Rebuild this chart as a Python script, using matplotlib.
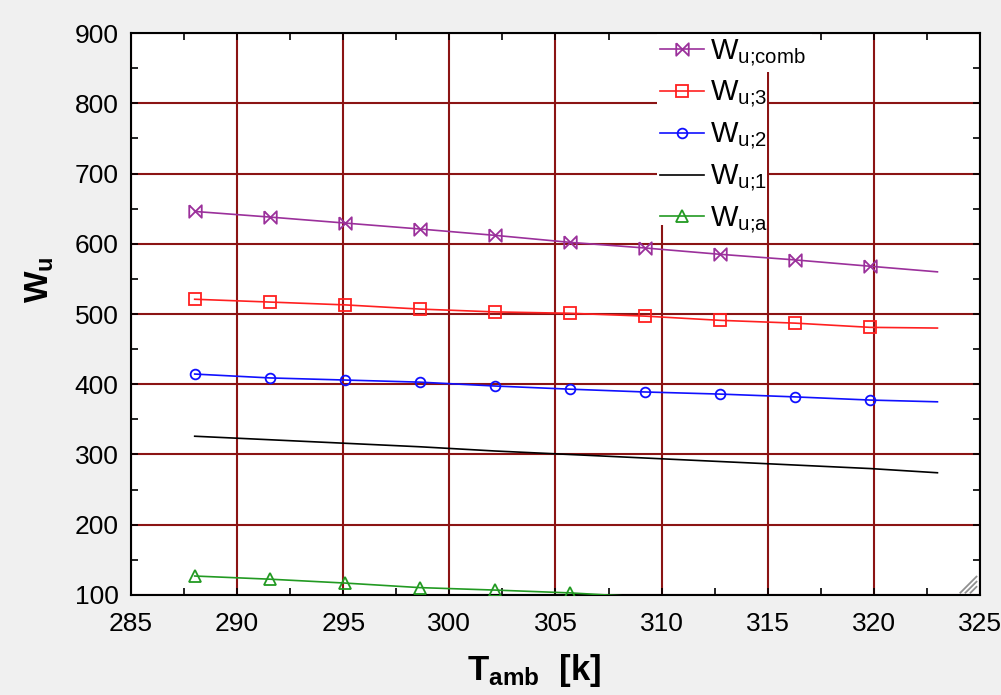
import numpy as np
import matplotlib
matplotlib.use('Agg')
import matplotlib.pyplot as plt
from matplotlib.path import Path
from matplotlib.patches import Rectangle

plt.rcParams['font.family'] = ['Liberation Sans', 'DejaVu Sans']
plt.rcParams['mathtext.fontset'] = 'custom'
plt.rcParams['mathtext.rm'] = 'Liberation Sans'
plt.rcParams['mathtext.it'] = 'Liberation Sans'
plt.rcParams['mathtext.bf'] = 'Liberation Sans:bold'

# ambient temperature (marker positions + end of line)
t_amb = [288, 291.54, 295.07, 298.61, 302.14, 305.68, 309.21, 312.75, 316.29, 319.82, 323]

w_comb = [646, 638, 629.5, 621, 612, 602, 594, 585, 577, 568, 560]
w_3 = [521, 517, 513, 507, 503, 501, 497, 491, 487, 481, 480]
w_2 = [414.5, 409, 406, 403, 397.5, 393, 389, 386, 382, 377.5, 375]
w_1 = [326, 321, 316, 311, 305, 300, 295, 290, 285, 280, 274]
w_a = [127, 122.5, 117, 110.5, 107, 103, 97, 92, 87, 82, 78]

# bowtie marker like the original program
bowtie = Path([(-1, 1), (-1, -1), (1, 1), (1, -1), (-1, 1)],
              [Path.MOVETO, Path.LINETO, Path.LINETO, Path.LINETO, Path.LINETO])

fig = plt.figure(figsize=(10.01, 6.95), dpi=100, facecolor='#f0f0f0')
ax = fig.add_axes([0.1309, 0.1439, 0.848, 0.8086])
ax.set_facecolor('white')

mk = list(range(10))
ax.plot(t_amb, w_comb, color='#9b309b', lw=1.2, marker=bowtie, ms=9, mfc='none', mew=1.3,
        markevery=mk, label=r'$\mathregular{W}_{\text{u;comb}}$', zorder=3)
ax.plot(t_amb, w_3, color='#ff2020', lw=1.2, marker='s', ms=9, mfc='none', mew=1.3,
        markevery=mk, label=r'$\mathregular{W}_{\text{u;3}}$', zorder=3)
ax.plot(t_amb, w_2, color='#1010ff', lw=1.2, marker='o', ms=7, mfc='none', mew=1.3,
        markevery=mk, label=r'$\mathregular{W}_{\text{u;2}}$', zorder=3)
ax.plot(t_amb, w_1, color='black', lw=1.2, label=r'$\mathregular{W}_{\text{u;1}}$', zorder=3)
ax.plot(t_amb, w_a, color='#229a22', lw=1.2, marker='^', ms=9, mfc='none', mew=1.3,
        markevery=list(range(6)), label=r'$\mathregular{W}_{\text{u;a}}$', zorder=3)

ax.set_xlim(285, 325)
ax.set_ylim(100, 900)
ax.set_xticks(np.arange(285, 326, 5))
ax.set_yticks(np.arange(100, 901, 100))
ax.set_xticks(np.arange(287.5, 325, 5), minor=True)
ax.set_yticks(np.arange(150, 900, 100), minor=True)
ax.grid(True, which='major', color='#8b1414', lw=1.5)
ax.set_axisbelow(True)
ax.tick_params(which='both', direction='in', top=True, right=True, labelsize=19,
               length=5, width=1.2)
ax.tick_params(axis='x', pad=12)
ax.tick_params(axis='y', pad=9)
for s in ax.spines.values():
    s.set_linewidth(1.5)

# white area behind the legend (hides the grid there)
ax.add_patch(Rectangle((309.8, 627), 5.15, 273, facecolor='white', edgecolor='none', zorder=1))
ax.add_patch(Rectangle((314.9, 845), 2.2, 55, facecolor='white', edgecolor='none', zorder=1))

leg = ax.legend(loc='upper left', bbox_to_anchor=(0.618, 1.0), fontsize=21,
                frameon=False, handlelength=1.5, handletextpad=0.2, labelspacing=0.36,
                borderpad=0.1, borderaxespad=0.05)
leg.set_zorder(5)

# resize grip in the corner
for d in (0.007, 0.013, 0.019):
    ax.plot([1 - d - 0.004, 0.996], [0.004, 0.004 + d * 849 / 562],
            transform=ax.transAxes, color='#909090', lw=1.3, zorder=6)

fig.text(0.534, 0.022, r'$\mathbf{T_{amb}}$  [k]', fontsize=25, fontweight='bold',
         ha='center', va='baseline')
fig.text(0.040, 0.597, r'$\mathbf{W_u}$', fontsize=24, fontweight='bold',
         ha='center', va='center', rotation=90)

fig.savefig('out.png', dpi=100, facecolor=fig.get_facecolor())
